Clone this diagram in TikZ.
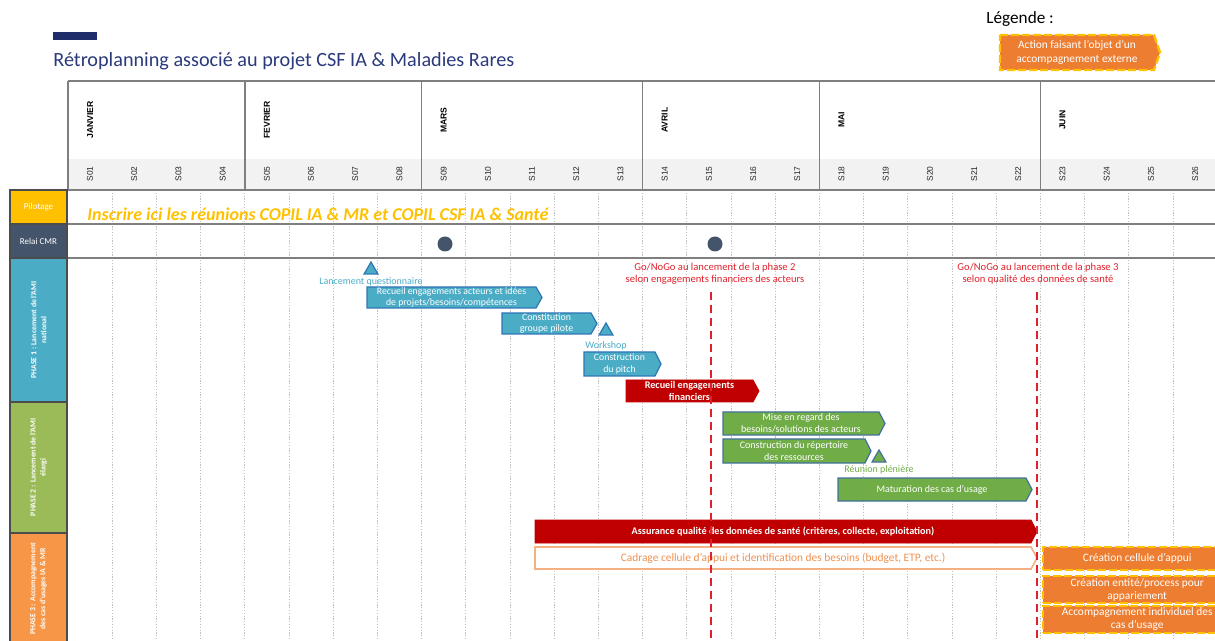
\documentclass[tikz,border=0pt]{standalone}
\usepackage{fontspec}
\setmainfont{Carlito}
\newfontfamily\headfont{Liberation Sans}
\usetikzlibrary{positioning,shapes.geometric}

\definecolor{navy}{HTML}{1F2D6B}
\definecolor{titleblue}{HTML}{2B3A7C}
\definecolor{pilotyellow}{HTML}{FFC000}
\definecolor{relaigray}{HTML}{44546A}
\definecolor{phaseblue}{HTML}{4BACC6}
\definecolor{phasegreen}{HTML}{9BBB59}
\definecolor{phaseorange}{HTML}{F79646}
\definecolor{barblueline}{HTML}{2E75B6}
\definecolor{bargreen}{HTML}{70AD47}
\definecolor{bargreenline}{HTML}{41719C}
\definecolor{darkred}{HTML}{C00000}
\definecolor{gored}{HTML}{E0202B}
\definecolor{extorange}{HTML}{ED7D31}
\definecolor{framorange}{HTML}{F4B183}
\definecolor{gridgray}{HTML}{7F7F7F}

\tikzset{
  bluebar/.style={fill=phaseblue, draw=barblueline, line width=0.6pt},
  bluebar label/.style={text=white, font=\fontsize{4.9}{5.6}\selectfont},
  greenbar/.style={fill=bargreen, draw=bargreenline, line width=0.6pt},
  greenbar label/.style={text=white, font=\fontsize{5}{6}\selectfont},
  redbar/.style={fill=darkred, draw=darkred, line width=0.4pt},
  redbar label/.style={text=white, font=\fontsize{5.1}{5.8}\selectfont\bfseries},
  framebar/.style={fill=white, draw=framorange, line width=0.8pt},
  framebar label/.style={text=extorange!85, font=\fontsize{5.7}{6.5}\selectfont},
  extbar/.style={fill=extorange, draw=pilotyellow, line width=1.2pt, dash pattern=on 4pt off 1.5pt},
  extbar label/.style={text=white, font=\fontsize{5.7}{7}\selectfont},
  extbox/.style={fill=extorange, draw=pilotyellow, line width=1.2pt, dash pattern=on 4pt off 1.5pt,
    anchor=west, minimum width=94pt, inner sep=0, align=center, text=white, font=\fontsize{5.7}{6.5}\selectfont},
  bartext/.style={align=center, inner sep=0},
  rowlabel/.style={draw=gray!60!black, line width=0.6pt, inner sep=0, align=center, text=white,
    minimum width=28.5pt, font=\fontsize{4.5}{5.4}\selectfont},
  phaselabel/.style={rowlabel, rotate=90, minimum height=28.5pt, font=\fontsize{3.9}{5}\selectfont\bfseries},
  weeklabel/.style={rotate=90, inner sep=0, text=gray!30!black, font=\headfont\fontsize{4.2}{5}\selectfont},
  monthlabel/.style={rotate=90, inner sep=0, font=\headfont\fontsize{4.3}{5}\selectfont\bfseries},
  monthline/.style={gridgray, line width=0.8pt},
  weekline/.style={gray!50, line width=0.4pt, dash pattern=on 0.6pt off 0.8pt},
  rowline/.style={gridgray, line width=1.1pt},
  milestone/.style={regular polygon, regular polygon sides=3, minimum size=8pt, inner sep=0,
    line width=0.6pt},
  mslabel/.style={inner sep=0, font=\fontsize{5}{6}\selectfont},
  gonogo/.style={align=center, inner sep=0, text=gored, font=\fontsize{5.3}{6}\selectfont},
  gonogoline/.style={gored, line width=1.4pt, dash pattern=on 4pt off 2.5pt},
  cmrdot/.style={circle, fill=relaigray, minimum size=7.5pt, inner sep=0}
}

\newcommand{\ganttbar}[7]{%
  \draw[#2] (#3,#5) -- ({#4-6},#5) -- (#4,{(#5+#6)/2}) -- ({#4-6},#6) -- (#3,#6) -- cycle;
  \node[bartext, #2 label] (#1) at ({(#3+#4-6)/2},{(#5+#6)/2}) {#7};}

\begin{document}
\begin{tikzpicture}[x=0.5pt, y=-0.5pt]
\useasboundingbox (0,0) rectangle (1215,641);
\clip (0,0) rectangle (1215,641);

\fill[navy] (53,32) rectangle (97,40);
\node[anchor=west, inner sep=0, text=titleblue, font=\fontsize{10.1}{12}\selectfont] (title) at (53,61)
  {Rétroplanning associé au projet CSF IA \& Maladies Rares};
\node[anchor=west, inner sep=0, font=\fontsize{8.6}{10}\selectfont] (legtitle) at (986,19) {Légende :};
\ganttbar{leg}{extbar}{1000}{1160}{35}{70}{Action faisant l’objet d’un\\accompagnement externe}

\fill[gray!10] (68,159) rectangle (1215,190);
\foreach \i in {1,...,25}
  \draw[weekline] ({68+44.2*\i},190) -- ({68+44.2*\i},641);
\foreach \i in {1,...,26}
  \node[weeklabel] (s\i) at ({68+44.2*(\i-0.5)},174) {S\ifnum\i<10 0\fi\i};
\foreach \w/\m in {1/JANVIER,5/FEVRIER,9/MARS,14/AVRIL,18/MAI,23/JUIN} {
  \node[monthlabel] (m\w) at ({68+44.2*(\w-0.5)},120) {\m};
  \draw[monthline] ({68+44.2*(\w-1)},81) -- ({68+44.2*(\w-1)},190);
}
\draw[rowline] (68,81) -- (1215,81);
\draw[rowline] (10,190) -- (1215,190);
\draw[rowline] (67,224) -- (1215,224);
\draw[rowline] (67,258) -- (1215,258);

\node[rowlabel, fill=pilotyellow, minimum height=17pt] (pilot) at (38.5,207) {Pilotage};
\node[rowlabel, fill=relaigray, minimum height=17pt] (relai) at (38.5,241) {Relai CMR};
\node[phaselabel, fill=phaseblue, minimum width=72pt] (ph1) at (38.5,330) {PHASE 1 : Lancement de l’AMI\\national};
\node[phaselabel, fill=phasegreen, minimum width=65.5pt] (ph2) at (38.5,467.5) {PHASE 2 : Lancement de l’AMI\\élargi};
\node[phaselabel, fill=phaseorange, minimum width=56pt] (ph3) at (38.5,589) {PHASE 3 : Accompagnement\\des cas d’usages IA \& MR};

\node[anchor=west, inner sep=0, text=pilotyellow, font=\fontsize{9}{10}\selectfont\bfseries\itshape] (copil) at (87,214)
  {Inscrire ici les réunions COPIL IA \& MR et COPIL CSF IA \& Santé};
\node[cmrdot] (cmr1) at (445,244) {};
\node[cmrdot] (cmr2) at (715,244) {};

\node[milestone, fill=phaseblue, draw=barblueline] (quest) at (371,270) {};
\node[mslabel, text=phaseblue, below=1.5pt of quest] (questlbl) {Lancement questionnaire};
\ganttbar{recueil}{bluebar}{367}{542}{287}{308}{Recueil engagements acteurs et idées\\de projets/besoins/compétences}
\ganttbar{pilote}{bluebar}{502}{597}{313}{334}{Constitution\\groupe pilote}
\node[milestone, fill=phaseblue, draw=barblueline] (work) at (606,331) {};
\node[mslabel, text=phaseblue, below=3pt of work] (worklbl) {Workshop};
\ganttbar{pitch}{bluebar}{584}{661}{352}{376}{Construction\\du pitch}
\ganttbar{financ}{redbar}{626}{759}{380}{402}{Recueil engagements\\financiers}

\ganttbar{regard}{greenbar}{723}{885}{412}{435}{Mise en regard des\\besoins/solutions des acteurs}
\ganttbar{repert}{greenbar}{723}{871}{439}{463}{Construction du répertoire\\des ressources}
\node[milestone, fill=bargreen, draw=bargreenline] (pleni) at (879,458) {};
\node[mslabel, text=bargreen, below=1.5pt of pleni] (plenilbl) {Réunion plénière};
\ganttbar{matur}{greenbar}{838}{1032}{478}{501}{Maturation des cas d’usage}

\ganttbar{qualite}{redbar}{535}{1037}{520}{543}{Assurance qualité des données de santé (critères, collecte, exploitation)}
\ganttbar{cadrage}{framebar}{535}{1037}{547}{569}{Cadrage cellule d’appui et identification des besoins (budget, ETP, etc.)}
\node[extbox, minimum height=11.5pt] (cell) at (1042,558.5) {Création cellule d’appui};
\node[extbox, minimum height=13.5pt] (entite) at (1042,589.5) {Création entité/process pour\\appariement};
\node[extbox, minimum height=13.5pt] (accomp) at (1042,619.5) {Accompagnement individuel des\\cas d’usage};

\node[gonogo] (go2) at (715,274) {Go/NoGo au lancement de la phase 2\\selon engagements financiers des acteurs};
\node[gonogo] (go3) at (1038,274) {Go/NoGo au lancement de la phase 3\\selon qualité des données de santé};
\coordinate (go2top) at (711,292);
\coordinate (go2bot) at (711,641);
\coordinate (go3top) at (1037,292);
\coordinate (go3bot) at (1037,641);
\draw[gonogoline] (go2top) -- (go2bot);
\draw[gonogoline] (go3top) -- (go3bot);
\end{tikzpicture}
\end{document}
